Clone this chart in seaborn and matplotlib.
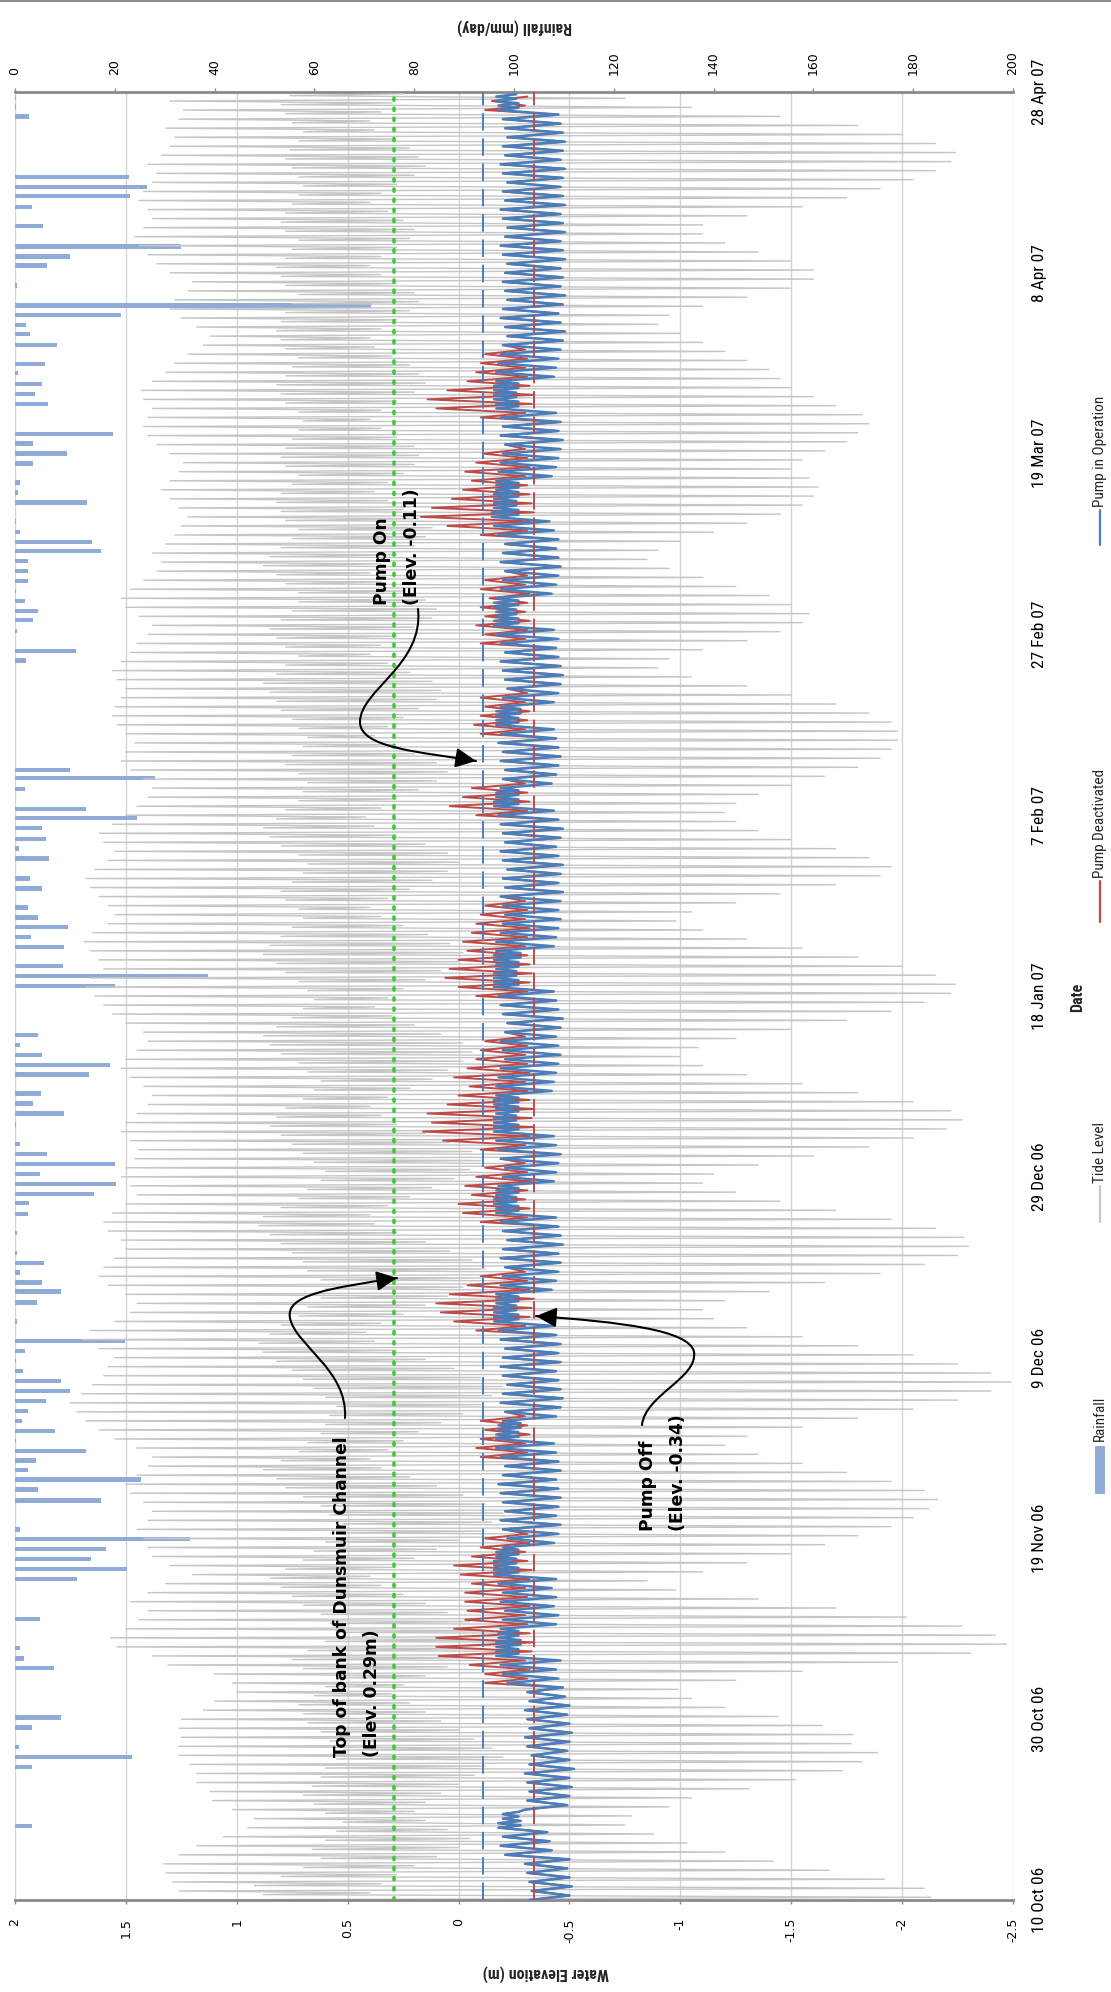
import numpy as np
import pandas as pd
import matplotlib
matplotlib.use("Agg")
import matplotlib.pyplot as plt
import seaborn as sns
from matplotlib.path import Path
from matplotlib.patches import FancyArrowPatch, Rectangle, PathPatch
from matplotlib.lines import Line2D
from matplotlib import font_manager as fm

# ---------------------------------------------------------------- data
start_date = "2006-10-10"
date_tick_days = [0, 20, 40, 60, 80, 100, 120, 140, 160, 180, 200]
date_tick_labels = ["10 Oct 06", "30 Oct 06", "19 Nov 06", "9 Dec 06", "29 Dec 06",
                    "18 Jan 07", "7 Feb 07", "27 Feb 07", "19 Mar 07", "8 Apr 07", "28 Apr 07"]
elev_ticks = [2, 1.5, 1, 0.5, 0, -0.5, -1, -1.5, -2, -2.5]
elev_tick_labels = ["2", "1.5", "1", "0.5", "0", "-0.5", "-1", "-1.5", "-2", "-2.5"]
rain_ticks = [0, 20, 40, 60, 80, 100, 120, 140, 160, 180, 200]

# daily tide extremes (m), day 0 = 10 Oct 06
tide_higher_high = [
    1.25, 1.26, 1.29, 1.32, 1.33, 1.26, 1.18, 1.06, 0.95, 0.92,
    1.02, 1.11, 1.12, 1.18, 1.18, 1.21, 1.26, 1.26, 1.25, 1.26,
    1.25, 1.15, 1.10, 1.00, 1.02, 1.10, 1.31, 1.38, 1.54, 1.57,
    1.50, 1.44, 1.40, 1.48, 1.40, 1.32, 1.20, 1.30, 1.38, 1.40,
    1.42, 1.45, 1.40, 1.38, 1.42, 1.48, 1.50, 1.45, 1.40, 1.38,
    1.45, 1.55, 1.62, 1.68, 1.72, 1.75, 1.70, 1.65, 1.60, 1.58,
    1.55, 1.62, 1.70, 1.66, 1.55, 1.48, 1.45, 1.50, 1.58, 1.62,
    1.60, 1.55, 1.50, 1.52, 1.58, 1.60, 1.56, 1.50, 1.45, 1.48,
    1.52, 1.50, 1.46, 1.44, 1.48, 1.52, 1.50, 1.45, 1.40, 1.38,
    1.42, 1.48, 1.52, 1.50, 1.45, 1.40, 1.42, 1.50, 1.56, 1.60,
    1.64, 1.68, 1.66, 1.60, 1.62, 1.66, 1.69, 1.65, 1.58, 1.55,
    1.58, 1.62, 1.66, 1.68, 1.64, 1.58, 1.55, 1.60, 1.62, 1.56,
    1.50, 1.45, 1.40, 1.38, 1.42, 1.48, 1.52, 1.50, 1.46, 1.50,
    1.54, 1.56, 1.55, 1.52, 1.50, 1.54, 1.56, 1.52, 1.48, 1.45,
    1.40, 1.38, 1.44, 1.50, 1.52, 1.48, 1.42, 1.36, 1.34, 1.38,
    1.32, 1.28, 1.25, 1.22, 1.26, 1.30, 1.34, 1.30, 1.26, 1.24,
    1.30, 1.36, 1.40, 1.42, 1.40, 1.38, 1.42, 1.43, 1.38, 1.32,
    1.28, 1.22, 1.15, 1.12, 1.18, 1.25, 1.30, 1.28, 1.22, 1.20,
    1.30, 1.36, 1.40, 1.44, 1.46, 1.42, 1.38, 1.40, 1.44, 1.42,
    1.38, 1.36, 1.40, 1.34, 1.30, 1.28, 1.32, 1.26, 1.24, 1.30,
]
tide_lower_low = [
    -2.13, -2.10, -1.92, -1.67, -1.42, -1.20, -1.03, -0.88, -0.75, -0.78,
    -0.95, -1.05, -1.31, -1.52, -1.73, -1.82, -1.89, -1.77, -1.78, -1.64,
    -1.44, -1.20, -1.05, -0.99, -1.25, -1.55, -1.98, -2.31, -2.47, -2.42,
    -2.27, -2.02, -1.70, -1.35, -0.98, -0.85, -1.10, -1.30, -1.50, -1.65,
    -1.80, -1.95, -2.05, -2.12, -2.16, -2.10, -1.95, -1.75, -1.55, -1.35,
    -1.20, -1.30, -1.55, -1.80, -2.05, -2.25, -2.40, -2.49, -2.40, -2.25,
    -2.05, -1.80, -1.55, -1.30, -1.15, -1.10, -1.20, -1.40, -1.65, -1.90,
    -2.10, -2.25, -2.30, -2.28, -2.15, -1.95, -1.70, -1.45, -1.25, -1.10,
    -1.15, -1.35, -1.60, -1.85, -2.05, -2.20, -2.27, -2.22, -2.05, -1.80,
    -1.55, -1.30, -1.10, -1.00, -1.08, -1.25, -1.50, -1.75, -1.95, -2.10,
    -2.22, -2.24, -2.15, -2.00, -1.80, -1.55, -1.30, -1.10, -0.98, -1.05,
    -1.25, -1.45, -1.70, -1.90, -1.95, -1.85, -1.70, -1.50, -1.35, -1.25,
    -1.20, -1.25, -1.35, -1.50, -1.65, -1.80, -1.90, -1.95, -1.98, -1.98,
    -1.95, -1.85, -1.70, -1.50, -1.30, -1.05, -0.90, -0.95, -1.10, -1.30,
    -1.45, -1.55, -1.58, -1.50, -1.40, -1.25, -1.10, -0.95, -0.85, -0.90,
    -1.00, -1.15, -1.30, -1.45, -1.55, -1.60, -1.62, -1.58, -1.50, -1.55,
    -1.65, -1.75, -1.80, -1.85, -1.82, -1.70, -1.60, -1.50, -1.45, -1.40,
    -1.30, -1.20, -1.10, -1.00, -0.90, -0.95, -1.10, -1.30, -1.50, -1.60,
    -1.60, -1.50, -1.35, -1.20, -1.10, -1.10, -1.30, -1.55, -1.75, -1.90,
    -2.05, -2.15, -2.22, -2.24, -2.15, -2.00, -1.80, -1.45, -1.05, -0.75,
]
tide_lower_high = [
    0.88, 0.92, 0.80, 0.70, 0.62, 0.66, 0.60, 0.55, 0.52, 0.60,
    0.65, 0.70, 0.66, 0.62, 0.60, 0.55, 0.52, 0.58, 0.62, 0.68,
    0.70, 0.72, 0.65, 0.60, 0.55, 0.70, 0.75, 0.68, 0.60, 0.55,
    0.58, 0.62, 0.70, 0.75, 0.80, 0.85, 0.78, 0.70, 0.65, 0.60,
    0.55, 0.52, 0.58, 0.62, 0.70, 0.78, 0.82, 0.88, 0.80, 0.72,
    0.68, 0.62, 0.60, 0.58, 0.55, 0.60, 0.65, 0.70, 0.75, 0.82,
    0.88, 0.90, 0.85, 0.80, 0.72, 0.68, 0.62, 0.60, 0.62, 0.68,
    0.70, 0.75, 0.80, 0.85, 0.90, 0.88, 0.80, 0.72, 0.68, 0.62,
    0.60, 0.65, 0.70, 0.75, 0.80, 0.85, 0.82, 0.78, 0.70, 0.65,
    0.62, 0.68, 0.72, 0.80, 0.85, 0.88, 0.82, 0.75, 0.70, 0.65,
    0.68, 0.72, 0.78, 0.82, 0.88, 0.85, 0.80, 0.75, 0.70, 0.72,
    0.78, 0.80, 0.75, 0.70, 0.68, 0.72, 0.80, 0.85, 0.88, 0.82,
    0.78, 0.72, 0.70, 0.68, 0.72, 0.78, 0.75, 0.70, 0.68, 0.72,
    0.75, 0.80, 0.82, 0.85, 0.88, 0.82, 0.78, 0.72, 0.78, 0.82,
    0.85, 0.80, 0.75, 0.72, 0.72, 0.78, 0.82, 0.88, 0.85, 0.80,
    0.75, 0.72, 0.78, 0.80, 0.82, 0.80, 0.75, 0.72, 0.78, 0.80,
    0.78, 0.75, 0.72, 0.70, 0.72, 0.78, 0.80, 0.82, 0.78, 0.75,
    0.72, 0.78, 0.80, 0.82, 0.80, 0.78, 0.75, 0.72, 0.78, 0.80,
    0.82, 0.78, 0.75, 0.72, 0.78, 0.80, 0.78, 0.75, 0.72, 0.70,
    0.72, 0.75, 0.78, 0.76, 0.72, 0.70, 0.75, 0.78, 0.80, 0.76,
]
tide_higher_low = [
    0.40, 0.35, 0.28, 0.20, 0.10, 0.00, -0.05, 0.05, 0.15, 0.20,
    0.15, 0.08, 0.00, -0.07, -0.12, -0.20, -0.15, -0.07, 0.00, 0.08,
    0.15, 0.22, 0.30, 0.25, 0.15, 0.05, -0.05, -0.12, -0.20, -0.15,
    -0.05, 0.05, 0.15, 0.25, 0.35, 0.40, 0.30, 0.20, 0.10, 0.00,
    -0.10, -0.15, -0.20, -0.12, -0.02, 0.10, 0.22, 0.35, 0.40, 0.32,
    0.25, 0.18, 0.08, -0.02, -0.10, -0.15, -0.20, -0.10, 0.02, 0.15,
    0.28, 0.38, 0.42, 0.35, 0.25, 0.15, 0.05, -0.02, -0.10, -0.12,
    -0.06, 0.04, 0.15, 0.28, 0.38, 0.40, 0.32, 0.22, 0.12, 0.02,
    -0.05, -0.10, -0.06, 0.04, 0.15, 0.28, 0.35, 0.40, 0.32, 0.22,
    0.12, 0.05, -0.02, -0.06, -0.02, 0.08, 0.20, 0.30, 0.38, 0.32,
    0.25, 0.15, 0.08, 0.00, -0.02, 0.04, 0.14, 0.25, 0.35, 0.40,
    0.32, 0.22, 0.12, 0.05, 0.00, 0.05, 0.15, 0.28, 0.38, 0.42,
    0.35, 0.28, 0.18, 0.10, 0.05, 0.10, 0.20, 0.30, 0.38, 0.32,
    0.25, 0.18, 0.10, 0.08, 0.12, 0.22, 0.32, 0.40, 0.35, 0.28,
    0.20, 0.12, 0.10, 0.15, 0.25, 0.35, 0.40, 0.35, 0.28, 0.20,
    0.15, 0.12, 0.18, 0.25, 0.32, 0.38, 0.32, 0.25, 0.20, 0.18,
    0.20, 0.28, 0.35, 0.40, 0.35, 0.28, 0.20, 0.15, 0.18, 0.22,
    0.30, 0.38, 0.40, 0.35, 0.28, 0.22, 0.18, 0.20, 0.28, 0.35,
    0.40, 0.35, 0.28, 0.22, 0.20, 0.25, 0.32, 0.40, 0.35, 0.28,
    0.20, 0.15, 0.18, 0.22, 0.30, 0.38, 0.40, 0.35, 0.30, 0.25,
]

# channel level with pump in operation: daily high / low (m)
pump_on_high = [
    -0.32, -0.33, -0.32, -0.31, -0.30, -0.21, -0.19, -0.20, -0.18, -0.20,
    -0.30, -0.31, -0.32, -0.31, -0.30, -0.32, -0.33, -0.31, -0.30, -0.32,
    -0.31, -0.30, -0.32, -0.31, -0.22, -0.20, -0.19, -0.17, -0.17, -0.18,
    -0.19, -0.20, -0.21, -0.19, -0.20, -0.18, -0.16, -0.16, -0.17, -0.20,
    -0.22, -0.20, -0.19, -0.21, -0.20, -0.19, -0.18, -0.20, -0.21, -0.19,
    -0.17, -0.17, -0.18, -0.20, -0.21, -0.19, -0.20, -0.22, -0.20, -0.19,
    -0.20, -0.21, -0.19, -0.18, -0.16, -0.16, -0.17, -0.17, -0.19, -0.20,
    -0.21, -0.19, -0.20, -0.22, -0.20, -0.19, -0.17, -0.16, -0.17, -0.18,
    -0.20, -0.21, -0.19, -0.18, -0.17, -0.16, -0.16, -0.17, -0.16, -0.17,
    -0.17, -0.18, -0.19, -0.21, -0.20, -0.19, -0.21, -0.22, -0.20, -0.19,
    -0.18, -0.16, -0.16, -0.17, -0.16, -0.17, -0.17, -0.19, -0.20, -0.21,
    -0.20, -0.19, -0.21, -0.20, -0.22, -0.20, -0.19, -0.21, -0.20, -0.19,
    -0.18, -0.16, -0.17, -0.19, -0.20, -0.21, -0.19, -0.20, -0.18, -0.19,
    -0.17, -0.17, -0.19, -0.20, -0.22, -0.21, -0.20, -0.19, -0.21, -0.19,
    -0.17, -0.16, -0.17, -0.16, -0.17, -0.19, -0.20, -0.21, -0.19, -0.20,
    -0.21, -0.18, -0.16, -0.15, -0.16, -0.16, -0.17, -0.17, -0.18, -0.19,
    -0.20, -0.21, -0.19, -0.20, -0.19, -0.17, -0.16, -0.16, -0.17, -0.17,
    -0.18, -0.19, -0.20, -0.22, -0.21, -0.19, -0.20, -0.22, -0.21, -0.20,
    -0.21, -0.22, -0.20, -0.19, -0.21, -0.22, -0.20, -0.19, -0.21, -0.20,
    -0.22, -0.20, -0.19, -0.21, -0.20, -0.22, -0.21, -0.20, -0.18, -0.17,
]
pump_on_low = [
    -0.50, -0.51, -0.50, -0.49, -0.50, -0.42, -0.41, -0.40, -0.28, -0.27,
    -0.49, -0.50, -0.51, -0.50, -0.52, -0.50, -0.49, -0.50, -0.51, -0.50,
    -0.49, -0.50, -0.48, -0.47, -0.45, -0.44, -0.46, -0.27, -0.28, -0.27,
    -0.44, -0.45, -0.43, -0.44, -0.42, -0.44, -0.27, -0.26, -0.27, -0.43,
    -0.45, -0.46, -0.44, -0.45, -0.46, -0.45, -0.44, -0.46, -0.45, -0.44,
    -0.43, -0.27, -0.28, -0.44, -0.46, -0.47, -0.46, -0.45, -0.44, -0.46,
    -0.45, -0.46, -0.44, -0.43, -0.27, -0.26, -0.27, -0.42, -0.44, -0.45,
    -0.46, -0.45, -0.47, -0.46, -0.45, -0.44, -0.27, -0.26, -0.27, -0.43,
    -0.44, -0.45, -0.46, -0.44, -0.43, -0.27, -0.26, -0.27, -0.27, -0.42,
    -0.43, -0.44, -0.45, -0.46, -0.45, -0.44, -0.46, -0.47, -0.45, -0.44,
    -0.43, -0.27, -0.26, -0.27, -0.28, -0.43, -0.44, -0.45, -0.46, -0.45,
    -0.46, -0.47, -0.45, -0.46, -0.47, -0.45, -0.44, -0.46, -0.47, -0.45,
    -0.43, -0.27, -0.27, -0.42, -0.44, -0.45, -0.46, -0.45, -0.44, -0.43,
    -0.27, -0.28, -0.43, -0.45, -0.46, -0.47, -0.46, -0.45, -0.44, -0.45,
    -0.43, -0.27, -0.26, -0.27, -0.42, -0.44, -0.45, -0.46, -0.45, -0.44,
    -0.45, -0.43, -0.41, -0.27, -0.26, -0.27, -0.27, -0.42, -0.44, -0.45,
    -0.46, -0.47, -0.45, -0.46, -0.44, -0.27, -0.26, -0.27, -0.43, -0.44,
    -0.45, -0.46, -0.47, -0.48, -0.46, -0.45, -0.47, -0.48, -0.46, -0.47,
    -0.46, -0.48, -0.47, -0.46, -0.48, -0.47, -0.46, -0.48, -0.47, -0.46,
    -0.47, -0.48, -0.46, -0.47, -0.48, -0.47, -0.46, -0.45, -0.27, -0.26,
]
# days on which the pumped level cycles rapidly (dense band)
pump_cycling_days = [8, 9, 27, 28, 29, 36, 37, 38, 51, 52, 64, 65, 66, 76, 77, 78,
                     85, 86, 87, 88, 101, 102, 103, 104, 121, 122, 130, 131, 141, 142, 143,
                     153, 154, 155, 156, 165, 166, 167, 198, 199]

# channel level with pump deactivated, where it departs from the pumped level
pump_off_days = (list(range(24, 41)) + list(range(49, 54)) + list(range(63, 70)) +
                 list(range(75, 82)) + list(range(83, 96)) + list(range(100, 111)) +
                 list(range(120, 124)) + list(range(129, 134)) + list(range(139, 147)) +
                 list(range(151, 161)) + list(range(164, 172)) + [198, 199])
pump_off_high = [
    -0.12, -0.12, -0.05, 0.09, 0.10, 0.10, 0.02, -0.03, -0.04, -0.03, -0.03, -0.06, -0.01, 0.02, -0.06, -0.10, -0.12,
    -0.10, -0.08, -0.10, -0.12, -0.10,
    -0.08, 0.02, 0.08, 0.10, 0.04, -0.04, -0.10,
    -0.10, -0.02, 0.00, -0.06, -0.03, -0.08, -0.12,
    -0.10, 0.07, 0.16, 0.12, 0.14, 0.05, 0.00, -0.05, 0.02, -0.04, -0.08, -0.10, -0.12,
    -0.08, 0.00, 0.06, 0.04, 0.00, -0.04, -0.02, -0.06, -0.08, -0.10, -0.12,
    -0.08, 0.04, -0.02, -0.06,
    -0.10, -0.07, -0.10, -0.12, -0.10,
    -0.10, -0.12, -0.08, -0.12, -0.10, -0.14, -0.10, -0.12,
    -0.10, 0.05, 0.17, 0.12, 0.03, -0.02, -0.06, -0.03, -0.08, -0.11,
    -0.10, 0.10, 0.14, 0.05, -0.04, -0.08, -0.10, -0.12,
    -0.12, -0.15,
]
pump_off_low = [
    -0.31, -0.32, -0.30, -0.33, -0.34, -0.32, -0.31, -0.30, -0.32, -0.31, -0.30, -0.32, -0.33, -0.31, -0.30, -0.32, -0.31,
    -0.31, -0.30, -0.32, -0.31, -0.30,
    -0.30, -0.32, -0.33, -0.34, -0.32, -0.31, -0.30,
    -0.31, -0.32, -0.30, -0.31, -0.33, -0.31, -0.30,
    -0.30, -0.32, -0.34, -0.33, -0.34, -0.32, -0.31, -0.30, -0.32, -0.31, -0.30, -0.31, -0.30,
    -0.31, -0.32, -0.33, -0.32, -0.31, -0.30, -0.31, -0.32, -0.30, -0.31, -0.30,
    -0.31, -0.32, -0.31, -0.30,
    -0.30, -0.31, -0.32, -0.30, -0.31,
    -0.30, -0.31, -0.32, -0.30, -0.31, -0.32, -0.30, -0.31,
    -0.31, -0.32, -0.34, -0.33, -0.32, -0.31, -0.30, -0.32, -0.31, -0.30,
    -0.30, -0.33, -0.34, -0.32, -0.31, -0.30, -0.31, -0.30,
    -0.30, -0.31,
]

# daily rainfall (mm/day) at day offsets from 10 Oct 06
rain_day = [8.2, 14.7, 15.8, 16.9, 19.1, 20.2, 25.7, 26.7, 27.9, 31.1,
            35.5, 36.6, 37.7, 38.8, 39.9, 41.0, 44.2, 45.4, 46.5, 47.6,
            48.6, 49.7, 50.8, 51.9, 53.0, 54.1, 55.2, 56.3, 57.4, 58.5,
            59.6, 60.7, 61.8, 64.0, 66.1, 67.3, 68.3, 69.4, 70.5, 71.6,
            73.8, 75.9, 77.1, 78.1, 79.2, 80.3, 81.4, 82.5, 83.6, 85.8,
            87.0, 88.1, 89.2, 91.3, 92.4, 93.5, 94.6, 95.7, 101.1, 102.2,
            103.3, 105.4, 106.5, 107.6, 108.7, 109.8, 111.9, 113.0, 115.2, 116.3,
            117.4, 118.6, 119.7, 120.7, 122.9, 124.1, 125.0, 137.1, 138.2, 140.4,
            141.6, 142.6, 143.7, 144.8, 145.9, 147.0, 148.1, 149.2, 150.2, 151.3,
            152.5, 154.6, 155.7, 156.8, 158.9, 160.0, 161.1, 162.2, 165.5, 166.6,
            167.7, 168.9, 169.9, 172.0, 173.2, 174.2, 175.3, 176.4, 178.6, 180.8,
            181.8, 182.9, 185.2, 187.3, 188.5, 189.5, 190.6, 197.3, 198.4, 199.4]
rain_mm = [3.5, 3.5, 23.5, 0.9, 3.5, 9.2, 7.9, 1.8, 1.1, 5.0,
           12.5, 22.5, 15.3, 18.2, 35.0, 1.1, 17.2, 4.7, 25.3, 2.7,
           4.3, 14.2, 0.3, 8.0, 1.4, 2.7, 6.2, 11.1, 9.2, 1.6,
           0.3, 2.1, 22.1, 0.4, 4.5, 9.2, 5.4, 1.1, 5.8, 0.4,
           0.4, 2.6, 2.8, 15.9, 20.3, 5.0, 20.0, 6.5, 1.1, 0.3,
           9.9, 3.7, 5.2, 14.9, 19.0, 5.5, 1.1, 4.7, 20.0, 38.6,
           9.6, 9.9, 3.3, 10.6, 4.7, 2.6, 5.5, 3.1, 6.9, 0.9,
           6.2, 5.5, 24.4, 14.3, 2.0, 28.1, 11.1, 2.3, 12.3, 0.4,
           3.7, 4.7, 2.0, 0.3, 2.7, 2.7, 2.7, 17.2, 15.5, 1.0,
           0.3, 14.5, 0.7, 1.1, 3.7, 10.5, 3.7, 19.6, 6.7, 4.0,
           5.4, 0.7, 6.0, 8.4, 3.1, 2.3, 21.3, 71.3, 0.4, 6.4,
           11.1, 33.3, 5.7, 3.5, 23.0, 26.4, 22.8, 2.8, 0.3, 0.3]

top_of_bank = 0.29
pump_on_level = -0.11
pump_off_level = -0.34

# ---------------------------------------------------------------- build series
tide_phase = [0.0, 0.3, 0.6, 0.8]
tide_t, tide_v = [], []
for d in range(len(tide_higher_high)):
    for off, arr in zip(tide_phase, (tide_higher_high, tide_lower_low, tide_lower_high, tide_higher_low)):
        tide_t.append(d + off)
        tide_v.append(arr[d])

cycling = set(pump_cycling_days)
blue_by_day = {}
for d in range(len(pump_on_high)):
    hi, lo = pump_on_high[d], pump_on_low[d]
    if d in cycling:
        blue_by_day[d] = [(d, hi), (d + 0.25, lo), (d + 0.5, hi), (d + 0.75, lo)]
    else:
        blue_by_day[d] = [(d, hi), (d + 0.5, lo)]
red_map = {d: (h, l) for d, h, l in zip(pump_off_days, pump_off_high, pump_off_low)}
blue_pts, red_pts = [], []
for d in range(len(pump_on_high)):
    blue_pts += blue_by_day[d]
    if d in red_map:
        red_pts += [(d, red_map[d][0]), (d + 0.5, red_map[d][1])]
    else:
        red_pts += blue_by_day[d]

tide_df = pd.DataFrame({"day": tide_t, "elev": tide_v})
blue_df = pd.DataFrame(blue_pts, columns=["day", "elev"])
red_df = pd.DataFrame(red_pts, columns=["day", "elev"])

# ---------------------------------------------------------------- style
sns.set_theme(style="white")
plt.rcParams["font.family"] = ["DejaVu Sans"]
plt.rcParams["axes.unicode_minus"] = False


def has_font(name):
    try:
        fm.findfont(fm.FontProperties(family=name), fallback_to_default=False)
        return True
    except Exception:
        return False


NARROW = "DejaVu Sans"
for cand in ["Liberation Sans Narrow", "Roboto Condensed", "Open Sans Condensed"]:
    if has_font(cand):
        NARROW = cand
        break
NS = 1.0 if NARROW != "DejaVu Sans" else 0.78

W, H = 1111, 1992


def fx(x):
    return x / W


def fy(y):
    return 1 - y / H


C_TIDE = "#c6c6c6"
C_BLUE = "#4a7ebb"
C_RED = "#be4b48"
C_RAIN = "#91abd9"
C_GREEN = "#39cc39"
C_AXIS = "#8a8a8a"
C_GRID = "#d4d4d4"

fig = plt.figure(figsize=(W / 100, H / 100), dpi=100, facecolor="white")
L, R, T, B = 15, 1013, 92, 1900
ax = fig.add_axes([fx(L), fy(B), (R - L) / W, (B - T) / H])
ax2 = ax.twiny()

elev_max, elev_min = max(elev_ticks), min(elev_ticks)
rain_max = max(rain_ticks)
ax.set_xlim(elev_max, elev_min)
ax.set_ylim(date_tick_days[0], date_tick_days[-1])
ax2.set_xlim(0, rain_max)

# gridlines (behind everything, drawn on the lower axes)
for e in elev_ticks:
    ax2.axvline((elev_max - e) / (elev_max - elev_min) * rain_max, color=C_GRID, lw=1.0, zorder=0)

# rainfall bars
ax2.barh(rain_day, rain_mm, height=0.48, color=C_RAIN, edgecolor="none", zorder=1)

ax.set_zorder(ax2.get_zorder() + 1)
ax.patch.set_visible(False)

# series
sns.lineplot(data=tide_df, x="elev", y="day", orient="y", sort=False, estimator=None,
             color=C_TIDE, linewidth=1.0, ax=ax, legend=False, zorder=2)
sns.lineplot(data=red_df, x="elev", y="day", orient="y", sort=False, estimator=None,
             color=C_RED, linewidth=1.4, ax=ax, legend=False, zorder=3)
sns.lineplot(data=blue_df, x="elev", y="day", orient="y", sort=False, estimator=None,
             color=C_BLUE, linewidth=1.8, ax=ax, legend=False, zorder=4)

ax.axvline(top_of_bank, color=C_GREEN, lw=2.6, linestyle=(0, (0.6, 2.2)),
           dash_capstyle="round", zorder=5)
ax.axvline(pump_on_level, color=C_BLUE, lw=1.4, linestyle=(0, (9, 4)), zorder=5)
ax.axvline(pump_off_level, color=C_RED, lw=1.4, linestyle=(0, (9, 4)), zorder=5)

# axes cosmetics
ax.set_xlabel("")
ax.set_ylabel("")
ax2.set_xlabel("")
ax.grid(False)
ax2.grid(False)
for s in ["top", "left", "right"]:
    ax.spines[s].set_visible(False)
ax.spines["bottom"].set_color(C_AXIS)
ax.spines["bottom"].set_linewidth(2)
for s in ["bottom", "left", "right"]:
    ax2.spines[s].set_visible(False)
ax2.spines["top"].set_color(C_AXIS)
ax2.spines["top"].set_linewidth(2)

ax.set_xticks(elev_ticks)
ax.set_xticklabels(elev_tick_labels, rotation=90, fontsize=9, color="black")
ax.tick_params(axis="x", bottom=True, length=3, width=1, color=C_AXIS, pad=10)

ax.yaxis.tick_right()
ax.set_yticks(date_tick_days)
ax.set_yticklabels(date_tick_labels, rotation=90, va="center", family=NARROW,
                   fontsize=12.5 * NS, color="black")
ax.tick_params(axis="y", left=False, right=False, length=0, pad=14)

ax2.set_xticks(rain_ticks)
ax2.set_xticklabels([str(v) for v in rain_ticks], rotation=90, fontsize=9, color="black")
ax2.tick_params(axis="x", top=True, length=3, width=1, color=C_AXIS, pad=9.5)
ax2.tick_params(axis="y", left=False, right=False, labelleft=False, labelright=False)

# axis titles
fig.text(fx(546), fy(1973), "Water Elevation (m)", rotation=180, ha="center", va="center",
         family=NARROW, fontweight="bold", fontsize=11.5 * NS)
fig.text(fx(514), fy(27), "Rainfall (mm/day)", rotation=180, ha="center", va="center",
         family=NARROW, fontweight="bold", fontsize=11.5 * NS)
fig.text(fx(1078), fy(997), "Date", rotation=90, ha="center", va="center",
         family=NARROW, fontweight="bold", fontsize=11.5 * NS)

# top border line
fig.add_artist(Line2D([0, 1], [fy(1.5), fy(1.5)], transform=fig.transFigure,
                      color="#8c8c8c", lw=1.5))

# legend (rotated, right side)
LX = 1100
fig.add_artist(Rectangle((fx(LX - 5), fy(1494)), 10 / W, 48 / H, transform=fig.transFigure,
                         facecolor=C_RAIN, edgecolor="none"))
fig.text(fx(LX), fy(1441), "Rainfall", rotation=90, ha="center", va="bottom",
         family=NARROW, fontsize=11 * NS)
legend_lines = [("Tide Level", C_TIDE, 1222, 1186),
                ("Pump Deactivated", C_RED, 922, 881),
                ("Pump in Operation", C_BLUE, 545, 510)]
for label, col, y0, y1 in legend_lines:
    fig.add_artist(Line2D([fx(LX), fx(LX)], [fy(y0), fy(y1)], transform=fig.transFigure,
                          color=col, lw=1.6))
    fig.text(fx(LX), fy(y1 - 3), label, rotation=90, ha="center", va="bottom",
             family=NARROW, fontsize=11 * NS)

# annotations
ann_kw = dict(rotation=90, ha="center", va="bottom", multialignment="left",
              fontweight="bold", fontsize=12.3, linespacing=1.9, color="black", zorder=20)
fig.text(fx(357), fy(1757), "Top of bank of Dunsmuir Channel\n(Elev. 0.29m)", **ann_kw)
fig.text(fx(663), fy(1531), "Pump Off\n(Elev. -0.34)", **ann_kw)
fig.text(fx(397), fy(605), "Pump On\n(Elev. -0.11)", **ann_kw)


def curved_arrow(pts):
    verts = [(fx(x), fy(y)) for x, y in pts]
    codes = [Path.MOVETO] + [Path.CURVE4] * (len(verts) - 1)
    fig.add_artist(PathPatch(Path(verts, codes), transform=fig.transFigure,
                             fill=False, edgecolor="black", lw=1.5, capstyle="round",
                             zorder=20))
    (xa, ya), (xb, yb) = pts[-2], pts[-1]
    n = np.hypot(xb - xa, yb - ya)
    xs, ys = xb - (xb - xa) / n * 12, yb - (yb - ya) / n * 12
    fig.add_artist(FancyArrowPatch(posA=(fx(xs), fy(ys)), posB=(fx(xb), fy(yb)),
                                   transform=fig.transFigure,
                                   arrowstyle="-|>,head_length=0.62,head_width=0.3",
                                   mutation_scale=20, color="black", lw=1.5,
                                   shrinkA=0, shrinkB=0, zorder=21))


curved_arrow([(345, 1418), (348, 1370), (295, 1345), (290, 1318),
              (285, 1295), (330, 1288), (397, 1278)])
curved_arrow([(642, 1425), (645, 1395), (698, 1378), (694, 1352),
              (690, 1330), (620, 1322), (536, 1316)])
curved_arrow([(418, 609), (424, 665), (360, 690), (360, 722),
              (360, 748), (420, 752), (476, 761)])

fig.savefig("out.png", dpi=100, facecolor="white")
